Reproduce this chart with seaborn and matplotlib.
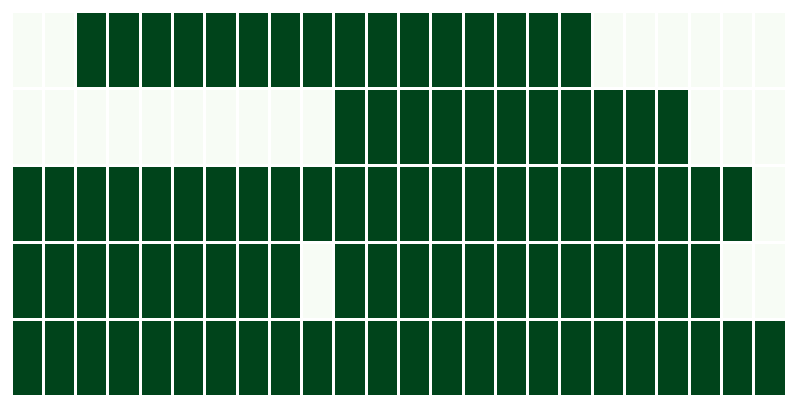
import numpy as np
import pandas as pd
import seaborn as sns
import matplotlib
matplotlib.use("Agg")
import matplotlib.pyplot as plt

row0 = [0, 0] + [1] * 16 + [0] * 6
row1 = [0] * 10 + [1] * 11 + [0] * 3
row2 = [1] * 23 + [0]
row3 = [1] * 9 + [0] + [1] * 12 + [0] * 2
row4 = [1] * 24

data = pd.DataFrame([row0, row1, row2, row3, row4])

fig = plt.figure(figsize=(7.94, 4.05), dpi=100)
ax = fig.add_axes([10.5 / 794, 9.5 / 405, 775 / 794, 385 / 405])
sns.heatmap(data, ax=ax, cmap="Greens", vmin=0, vmax=1, cbar=False,
            linewidths=2, linecolor="white",
            xticklabels=False, yticklabels=False)
ax.set_xlabel("")
ax.set_ylabel("")
fig.savefig("out.png", dpi=100)
